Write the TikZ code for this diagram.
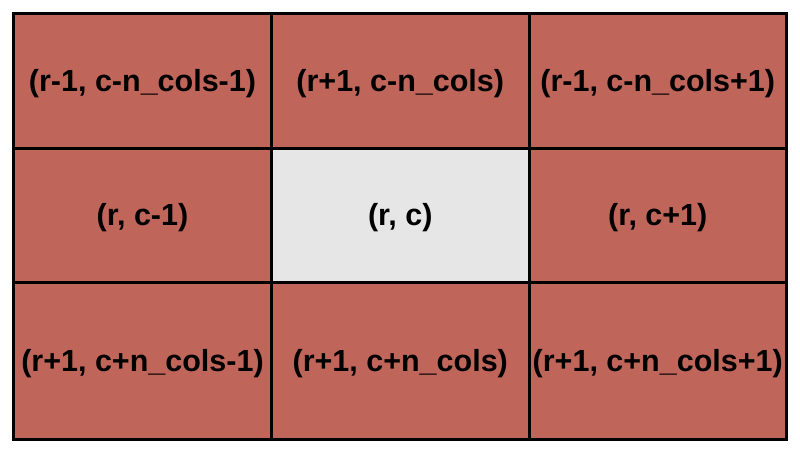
\documentclass[tikz,border=0pt]{standalone}
\usepackage{fontspec}
\setmainfont{Liberation Sans}
\usetikzlibrary{positioning}
\definecolor{cellred}{RGB}{192,101,90}
\definecolor{cellgray}{RGB}{230,230,230}

\begin{document}
\begin{tikzpicture}[x=1pt,y=-1pt,
	grid/.style={line width=3pt},
	cell/.style={font=\bfseries\fontsize{30.5}{34}\selectfont}]
	\useasboundingbox (0,0) rectangle (800,453);
	
	\fill[cellred] (13.5,13.5) rectangle (786.5,439.5);
	\fill[cellgray] (271.5,148) rectangle (529,282);
	\draw[grid] (13.5,13.5) rectangle (786.5,439.5);
	\draw[grid] (271.5,13.5) -- (271.5,439.5);
	\draw[grid] (529,13.5) -- (529,439.5);
	\draw[grid] (13.5,148) -- (786.5,148);
	\draw[grid] (13.5,282) -- (786.5,282);
	
	\node[cell] (nw) at (142.5,84) {(r-1, c-n\_cols-1)};
	\node[cell] (n) at (400.25,84) {(r+1, c-n\_cols)};
	\node[cell] (ne) at (657.75,84) {(r-1, c-n\_cols+1)};
	
	\node[cell] (w) at (142.5,218) {(r, c-1)};
	\node[cell] (mid) at (400.25,218) {(r, c)};
	\node[cell] (e) at (657.75,218) {(r, c+1)};
	
	\node[cell] (sw) at (142.5,364) {(r+1, c+n\_cols-1)};
	\node[cell] (s) at (400.25,364) {(r+1, c+n\_cols)};
	\node[cell] (se) at (657.75,364) {(r+1, c+n\_cols+1)};
\end{tikzpicture}
\end{document}
